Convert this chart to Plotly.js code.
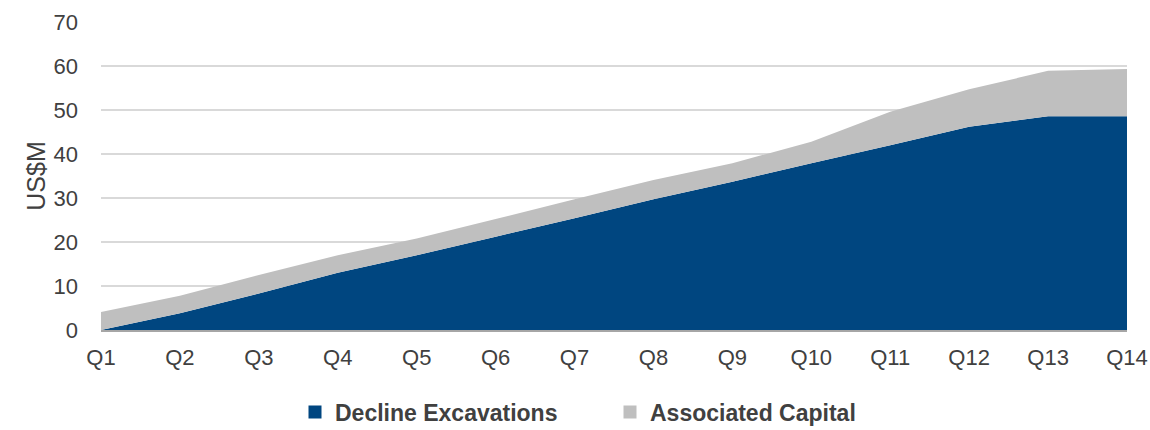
<!DOCTYPE html>
<html>
<head>
<meta charset="utf-8">
<script src="https://cdn.plot.ly/plotly-3.0.1.min.js"></script>
<style>html,body{margin:0;padding:0;background:#fff;}#chart{width:1150px;height:430px;}</style>
</head>
<body>
<div id="chart"></div>
<script>
const quarters = ["Q1","Q2","Q3","Q4","Q5","Q6","Q7","Q8","Q9","Q10","Q11","Q12","Q13","Q14"];
const declineExcavations = [0, 3.8, 8.3, 13.0, 17.0, 21.2, 25.4, 29.7, 33.7, 37.9, 42.0, 46.2, 48.6, 48.6];
const associatedCapital = [4.1, 4.0, 4.2, 4.0, 3.8, 4.0, 4.3, 4.4, 4.2, 4.9, 7.6, 8.5, 10.3, 10.7];
const seriesNames = ["Decline Excavations", "Associated Capital"];
const seriesColors = ["#004680", "#BFBFBF"];

const traces = [
  {x: quarters, y: declineExcavations, name: seriesNames[0], type: "scatter", mode: "none",
   stackgroup: "one", fillcolor: seriesColors[0], line: {width: 0}, showlegend: false},
  {x: quarters, y: associatedCapital, name: seriesNames[1], type: "scatter", mode: "none",
   stackgroup: "one", fillcolor: seriesColors[1], line: {width: 0}, showlegend: false},
  // legend entries with square swatches
  {x: [null], y: [null], name: seriesNames[0], type: "scatter", mode: "markers",
   marker: {symbol: "square", size: 13, color: seriesColors[0]}, showlegend: true},
  {x: [null], y: [null], name: seriesNames[1], type: "scatter", mode: "markers",
   marker: {symbol: "square", size: 13, color: seriesColors[1]}, showlegend: true}
];

const layout = {
  width: 1150, height: 430,
  margin: {l: 101, r: 23, t: 22, b: 100, autoexpand: false},
  paper_bgcolor: "#fff", plot_bgcolor: "#fff",
  font: {family: "Liberation Sans, Arial, sans-serif", size: 22, color: "#404040"},
  showlegend: true,
  legend: {orientation: "h", xref: "container", yref: "container",
           x: 295 / 1150, xanchor: "left", y: 1 - 412 / 430, yanchor: "middle",
           traceorder: "normal", entrywidth: 270, entrywidthmode: "pixels",
           font: {size: 23, color: "#404040", weight: "bold"}, itemwidth: 30, tracegroupgap: 0},
  xaxis: {type: "category", range: [0, 13], showgrid: false, zeroline: false,
          showline: true, linecolor: "#A6A6A6", linewidth: 1.5, ticks: "",
          tickfont: {size: 22}, ticklabelstandoff: 7},
  yaxis: {range: [0, 70], dtick: 10, showgrid: true, gridcolor: "#D9D9D9", gridwidth: 1.5,
          zeroline: false, ticks: "", tickfont: {size: 22}, ticklabelstandoff: 22,
          title: {text: "US$M", font: {size: 25, color: "#404040"}, standoff: 0}}
};

Plotly.newPlot("chart", traces, layout, {displayModeBar: false, staticPlot: true});
</script>
</body>
</html>
